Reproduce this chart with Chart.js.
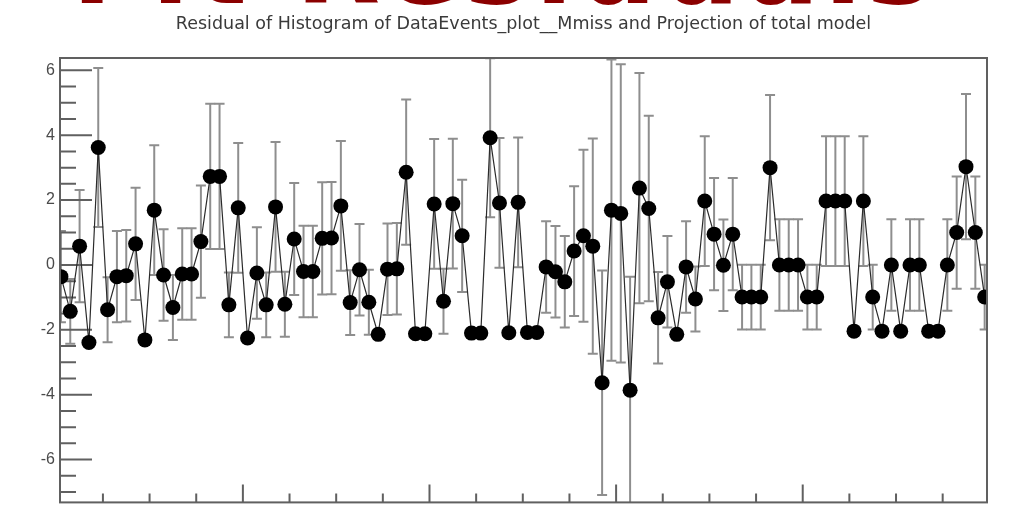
<!DOCTYPE html>
<html>
<head>
<meta charset="utf-8">
<script src="https://cdn.jsdelivr.net/npm/chart.js@4"></script>
<style>
  html, body { margin: 0; padding: 0; background: #fff; overflow: hidden; }
  #wrap { position: relative; width: 1009px; height: 517px; overflow: hidden; }
  #heading {
    position: absolute; left: 0; top: -99px; width: 1009px;
    text-align: center; white-space: nowrap; line-height: 1;
    font: bold 110px "DejaVu Sans"; letter-spacing: 5px; color: #8b0000;
  }
  #myChart { position: absolute; left: 0; top: 0; }
</style>
</head>
<body>
<div id="wrap">
  <div id="heading">Fit Residuals</div>
  <canvas id="myChart" width="1009" height="517"></canvas>
</div>
<script>
// bin number of every residual point
const bins = [
  0, 1, 2, 3, 4, 5, 6, 7, 8, 9,
  10, 11, 12, 13, 14, 15, 16, 17, 18, 19,
  20, 21, 22, 23, 24, 25, 26, 27, 28, 29,
  30, 31, 32, 33, 34, 35, 36, 37, 38, 39,
  40, 41, 42, 43, 44, 45, 46, 47, 48, 49,
  50, 51, 52, 53, 54, 55, 56, 57, 58, 59,
  60, 61, 62, 63, 64, 65, 66, 67, 68, 69,
  70, 71, 72, 73, 74, 75, 76, 77, 78, 79,
  80, 81, 82, 83, 84, 85, 86, 87, 88, 89,
  90, 91, 92, 93, 94, 95, 96, 97, 98, 99
];

// residual (data - model) per bin
const residuals = [
  -0.36, -1.43, 0.58, -2.39, 3.62, -1.38, -0.36, -0.33, 0.65, -2.31,
  1.69, -0.31, -1.31, -0.28, -0.28, 0.72, 2.73, 2.73, -1.23, 1.76,
  -2.25, -0.25, -1.23, 1.79, -1.21, 0.80, -0.20, -0.20, 0.82, 0.83,
  1.82, -1.16, -0.15, -1.15, -2.14, -0.13, -0.12, 2.86, -2.12, -2.12,
  1.88, -1.12, 1.89, 0.90, -2.10, -2.10, 3.92, 1.91, -2.09, 1.93,
  -2.08, -2.08, -0.06, -0.21, -0.52, 0.43, 0.90, 0.58, -3.63, 1.69,
  1.59, -3.86, 2.37, 1.74, -1.63, -0.52, -2.14, -0.06, -1.05, 1.97,
  0.95, -0.01, 0.95, -0.99, -0.99, -0.99, 3.00, 0.00, 0.00, 0.00,
  -0.99, -0.99, 1.97, 1.97, 1.97, -2.04, 1.97, -0.99, -2.04, 0.00,
  -2.04, 0.00, 0.00, -2.04, -2.04, 0.00, 1.00, 3.03, 1.00, -0.99
];

// error bar half length per bin
const errors = [
  1.41, 1.00, 1.73, 0, 2.45, 1.00, 1.41, 1.41, 1.73, 0,
  2.00, 1.41, 1.00, 1.41, 1.41, 1.73, 2.24, 2.24, 1.00, 2.00,
  0, 1.41, 1.00, 2.00, 1.00, 1.73, 1.41, 1.41, 1.73, 1.73,
  2.00, 1.00, 1.41, 1.00, 0, 1.41, 1.41, 2.24, 0, 0,
  2.00, 1.00, 2.00, 1.73, 0, 0, 2.45, 2.00, 0, 2.00,
  0, 0, 1.41, 1.41, 1.41, 2.00, 2.65, 3.32, 3.46, 4.64,
  4.60, 3.50, 3.55, 2.86, 1.41, 1.41, 0, 1.41, 1.00, 2.00,
  1.73, 1.41, 1.73, 1.00, 1.00, 1.00, 2.24, 1.41, 1.41, 1.41,
  1.00, 1.00, 2.00, 2.00, 2.00, 0, 2.00, 1.00, 0, 1.41,
  0, 1.41, 1.41, 0, 0, 1.41, 1.73, 2.24, 1.73, 1.00
];

const yTickValues = [-6, -4, -2, 0, 2, 4, 6];
const xMajorTicks = [19.5, 39.5, 59.5, 79.5];

const titleText = 'Residual of Histogram of DataEvents_plot__Mmiss and Projection of total model';

// grey error bars with small caps, under the markers
const errorBars = {
  id: 'errorBars',
  beforeDatasetsDraw(chart) {
    const ctx = chart.ctx;
    const xs = chart.scales.x;
    const ys = chart.scales.y;
    const a = chart.chartArea;
    ctx.save();
    ctx.beginPath();
    ctx.rect(a.left, a.top, a.right - a.left, a.bottom - a.top);
    ctx.clip();
    ctx.strokeStyle = '#8e8e8e';
    ctx.lineWidth = 2;
    residuals.forEach((r, i) => {
      const e = errors[i];
      if (!e) return;
      const px = xs.getPixelForValue(bins[i]);
      const top = ys.getPixelForValue(r + e);
      const bot = ys.getPixelForValue(r - e);
      ctx.beginPath();
      ctx.moveTo(px, top);
      ctx.lineTo(px, bot);
      ctx.moveTo(px - 5, top);
      ctx.lineTo(px + 5, top);
      ctx.moveTo(px - 5, bot);
      ctx.lineTo(px + 5, bot);
      ctx.stroke();
    });
    ctx.restore();
  }
};

// ROOT style frame with ticks pointing inwards
const rootFrame = {
  id: 'rootFrame',
  beforeDatasetsDraw(chart) {
    const ctx = chart.ctx;
    const xs = chart.scales.x;
    const ys = chart.scales.y;
    const a = chart.chartArea;
    ctx.save();
    ctx.strokeStyle = '#606060';
    ctx.lineWidth = 2;
    ctx.beginPath();
    for (let v = -7; v <= 6; v += 0.5) {
      const py = ys.getPixelForValue(v);
      const len = yTickValues.includes(v) ? 32 : 16;
      ctx.moveTo(a.left, py);
      ctx.lineTo(a.left + len, py);
    }
    for (let b = 4.5; b < 99; b += 5) {
      const px = xs.getPixelForValue(b);
      const len = xMajorTicks.includes(b) ? 18 : 9;
      ctx.moveTo(px, a.bottom);
      ctx.lineTo(px, a.bottom - len);
    }
    ctx.stroke();
    ctx.restore();
  },
  afterDatasetsDraw(chart) {
    const ctx = chart.ctx;
    const a = chart.chartArea;
    ctx.save();
    ctx.strokeStyle = '#606060';
    ctx.lineWidth = 2;
    ctx.strokeRect(a.left, a.top, a.right - a.left, a.bottom - a.top);
    ctx.restore();
  }
};

function createChart() {
  const ctx = document.getElementById('myChart').getContext('2d');
  return new Chart(ctx, {
    type: 'line',
    data: {
      datasets: [{
        label: 'residuals',
        data: bins.map((b, i) => ({ x: b, y: residuals[i] })),
        borderColor: '#2b2b2b',
        borderWidth: 1.2,
        pointRadius: 7.5,
        pointBackgroundColor: '#000',
        pointBorderWidth: 0,
        tension: 0,
        clip: 0
      }]
    },
    options: {
      responsive: false,
      animation: false,
      layout: { padding: { left: 0, right: 22, top: 0, bottom: 8 } },
      plugins: {
        legend: { display: false },
        tooltip: { enabled: false },
        title: {
          display: true,
          text: titleText,
          fullSize: false,
          color: '#3a3a3a',
          font: { family: 'DejaVu Sans', size: 17.5, weight: 'normal' },
          padding: { top: 14, bottom: 23 }
        }
      },
      scales: {
        x: { type: 'linear', min: -0.1, max: 99.25, display: false },
        y: {
          min: -7.32,
          max: 6.38,
          afterFit(scale) { scale.width = 60; },
          afterBuildTicks(scale) { scale.ticks = yTickValues.map(v => ({ value: v })); },
          grid: { display: false, drawTicks: false },
          border: { display: false },
          ticks: {
            padding: 5,
            color: '#4a4a4a',
            font: { family: 'Liberation Sans', size: 16 }
          }
        }
      }
    },
    plugins: [errorBars, rootFrame]
  });
}

createChart();
</script>
</body>
</html>
